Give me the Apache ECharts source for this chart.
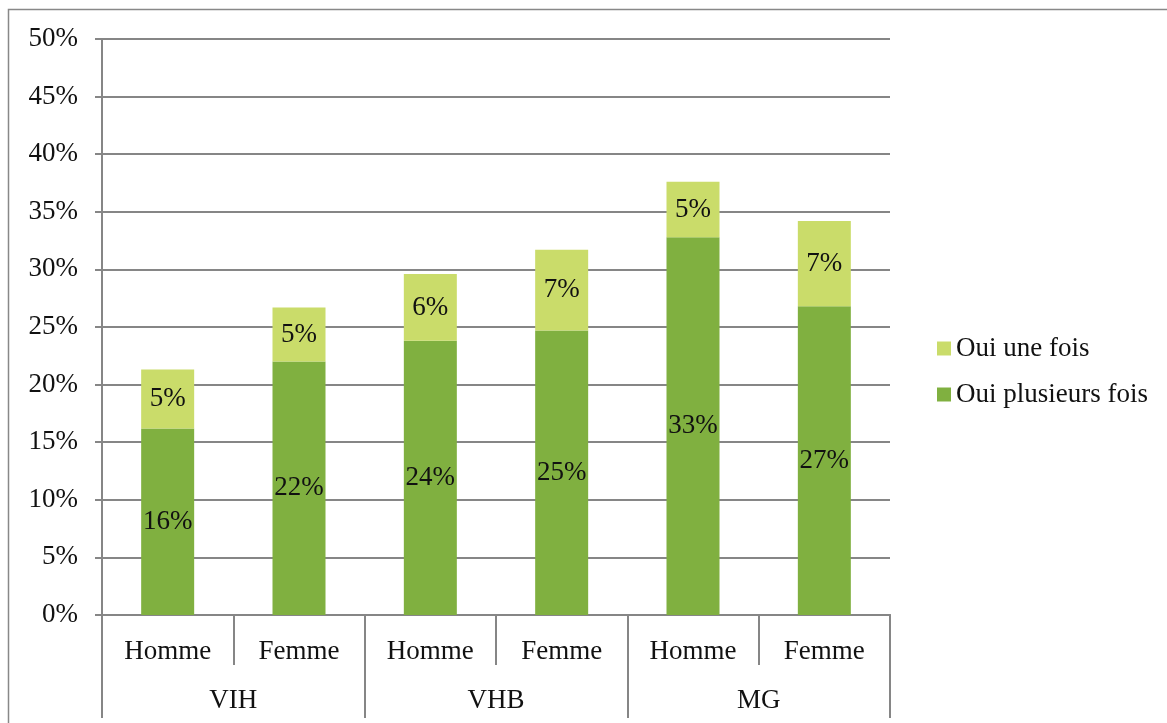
<!DOCTYPE html>
<html><head><meta charset="utf-8">
<script src="https://cdn.jsdelivr.net/npm/echarts@6/dist/echarts.min.js"></script>
<style>html,body{margin:0;padding:0;background:#fff}#c{width:1167px;height:723px}</style>
</head><body><div id="c"></div>
<script>
const subCategories = ['Homme','Femme','Homme','Femme','Homme','Femme'];
const groups = ['VIH','VHB','MG'];
const ouiPlusieursFois = [16.2, 22.0, 23.8, 24.7, 32.8, 26.8];
const ouiUneFois = [5.1, 4.7, 5.8, 7.0, 4.8, 7.4];
const yTicks = [0,5,10,15,20,25,30,35,40,45,50];

const FONT = 'Liberation Serif';
const FS = 27;
const grey = '#868686';
const chart = echarts.init(document.getElementById('c'));
const lbl = {show:true, position:'inside', color:'#111', fontFamily:FONT, fontSize:FS,
  formatter: p => Math.round(p.value) + '%'};
chart.setOption({
  animation:false,
  textStyle:{fontFamily:FONT},
  graphic:[{type:'rect', shape:{x:8.5,y:9.5,width:1300,height:900},
    style:{fill:'none', stroke:'#888', lineWidth:1.5}}],
  grid:{left:102, right:277, top:39, bottom:108},
  legend:{orient:'vertical', left:932, top:330, itemGap:19, itemWidth:14, itemHeight:14,
    icon:'rect', textStyle:{fontFamily:FONT, fontSize:FS, color:'#111'},
    data:['Oui une fois','Oui plusieurs fois']},
  xAxis:[
    {type:'category', data:subCategories, position:'bottom',
     axisLine:{lineStyle:{color:grey, width:2}},
     axisTick:{show:true, length:50, lineStyle:{color:grey, width:2}},
     axisLabel:{fontFamily:FONT, fontSize:FS, color:'#111', margin:23}},
    {type:'category', data:groups, position:'bottom',
     axisLine:{lineStyle:{color:grey, width:2}},
     axisTick:{show:true, length:103, lineStyle:{color:grey, width:2}},
     axisLabel:{fontFamily:FONT, fontSize:FS, color:'#111', margin:72}}
  ],
  yAxis:{type:'value', min:0, max:50, interval:5,
    axisLine:{show:true, lineStyle:{color:grey, width:2}},
    axisTick:{show:true, length:7, lineStyle:{color:grey, width:2}},
    splitLine:{lineStyle:{color:grey, width:2}},
    axisLabel:{formatter:v => yTicks.includes(v) ? v + '%' : '', fontFamily:FONT, fontSize:FS, color:'#111', margin:24}},
  series:[
    {name:'Oui plusieurs fois', type:'bar', stack:'s', data:ouiPlusieursFois, barWidth:53,
     itemStyle:{color:'#80B040'}, label:lbl},
    {name:'Oui une fois', type:'bar', stack:'s', data:ouiUneFois, barWidth:53,
     itemStyle:{color:'#CADC6A'}, label:lbl}
  ]
});
</script></body></html>
